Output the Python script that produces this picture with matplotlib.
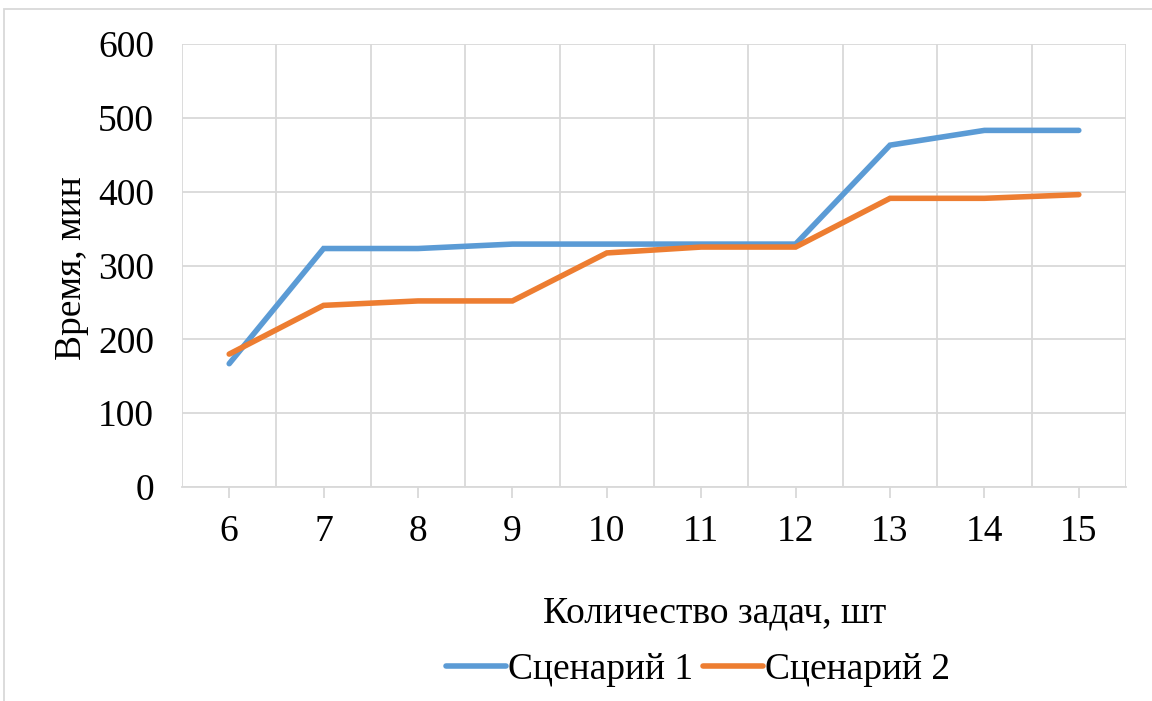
import matplotlib.pyplot as plt
from matplotlib.patches import Rectangle
from matplotlib.ticker import FixedLocator

TASKS = ["6", "7", "8", "9", "10", "11", "12", "13", "14", "15"]
SCENARIO_1 = [167, 323, 323, 329, 329, 329, 329, 463, 483, 483]
SCENARIO_2 = [180, 246, 252, 252, 317, 325, 325, 391, 391, 396]
SERIES_NAMES = ["Сценарий 1", "Сценарий 2"]
Y_TICKS = [0, 100, 200, 300, 400, 500, 600]

BLUE = "#5b9bd5"
ORANGE = "#ed7d31"
GRID = "#d9d9d9"
FS = 27

plt.rcParams["font.family"] = ["Liberation Serif", "DejaVu Serif"]

fig = plt.figure(figsize=(11.52, 7.01), dpi=100)
W, H = 1152, 701
L, R, T, B = 182, 1126, 44, 487
ax = fig.add_axes([L / W, 1 - B / H, (R - L) / W, (B - T) / H])

x = list(range(len(TASKS)))
ax.plot(x, SCENARIO_1, color=BLUE, lw=4.0, solid_capstyle="round", solid_joinstyle="miter", label=SERIES_NAMES[0], zorder=3)
ax.plot(x, SCENARIO_2, color=ORANGE, lw=4.0, solid_capstyle="round", solid_joinstyle="miter", label=SERIES_NAMES[1], zorder=3)

ax.set_xlim(-0.5, len(TASKS) - 0.5)
ax.set_ylim(0, 600)
ax.set_xticks(x)
ax.set_xticklabels(TASKS)
ax.set_yticks(Y_TICKS)
ax.xaxis.set_minor_locator(FixedLocator([i - 0.5 for i in range(len(TASKS) + 1)]))

ax.grid(axis="y", which="major", color=GRID, lw=1.3)
ax.grid(axis="x", which="minor", color=GRID, lw=1.3)
ax.set_axisbelow(True)

for side in ["top", "right", "left"]:
    ax.spines[side].set_visible(False)
ax.spines["bottom"].set_color(GRID)
ax.spines["bottom"].set_linewidth(1.3)

ax.tick_params(axis="x", which="major", length=8, width=1.3, color=GRID, labelsize=FS, pad=12)
ax.tick_params(axis="x", which="minor", length=0)
ax.tick_params(axis="y", length=0, labelsize=FS, pad=20)

# axis titles placed in pixel terms relative to the plot box
ax.set_xlabel("Количество задач, шт", fontsize=FS)
ax.xaxis.set_label_coords((715 - L) / (R - L), -(613 - B) / (B - T))
ax.xaxis.label.set_va("center")
ax.set_ylabel("Время, мин", fontsize=FS)
ax.yaxis.set_label_coords(-(L - 72) / (R - L), (B - 268) / (B - T))
ax.yaxis.label.set_va("center")

fig.legend(loc="center", bbox_to_anchor=(698 / W, 1 - 670 / H), ncol=2, frameon=False,
           fontsize=FS, handlelength=1.6, handletextpad=0.05, columnspacing=0.25)

fig.patches.append(Rectangle((4 / W, -0.1), 1.2, 1.1 - 9 / H, transform=fig.transFigure,
                             fill=False, edgecolor=GRID, lw=1.3))

fig.savefig("out.png", dpi=100, facecolor="white")
